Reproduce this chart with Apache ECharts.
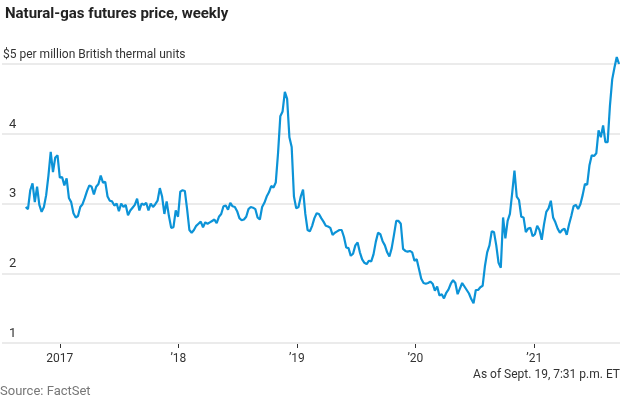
<!DOCTYPE html>
<html>
<head>
<meta charset="utf-8">
<script src="https://cdn.jsdelivr.net/npm/echarts@6/dist/echarts.min.js"></script>
<style>
  html, body { margin: 0; padding: 0; background: #fff; }
  #chart { width: 620px; height: 400px; }
</style>
</head>
<body>
<div id="chart"></div>
<script>
// Weekly natural-gas futures prices ($ per million BTU), first week = 2016-09-18
const startDate = '2016-09-18';
const prices2016 = [2.95, 2.92, 3.19, 3.29, 3.02, 3.24, 2.98, 2.88, 2.95, 3.12, 3.40, 3.74, 3.45, 3.66, 3.69];
const prices2017 = [3.37, 3.38, 3.26, 3.36, 3.08, 3.02, 2.86, 2.80, 2.82, 2.95,
                    2.99, 3.08, 3.18, 3.26, 3.24, 3.13, 3.24, 3.28, 3.40, 3.30,
                    3.31, 3.10, 3.04, 3.03, 2.97, 3.00, 2.89, 3.00, 2.95, 2.98,
                    2.83, 2.90, 2.94, 2.98, 3.07, 2.90, 3.00, 2.98, 3.01, 2.90,
                    3.00, 2.95, 2.99, 3.04, 3.22, 3.10, 2.85, 3.03, 2.82, 2.65,
                    2.66, 2.90];
const prices2018 = [2.81, 3.17, 3.19, 3.18, 2.92, 2.62, 2.58, 2.62, 2.68, 2.71,
                    2.74, 2.66, 2.73, 2.71, 2.73, 2.75, 2.77, 2.72, 2.81, 2.85,
                    2.96, 2.97, 2.91, 3.01, 2.96, 2.95, 2.89, 2.79, 2.76, 2.77,
                    2.81, 2.92, 2.95, 2.94, 2.92, 2.80, 2.77, 2.95, 3.01, 3.10,
                    3.16, 3.25, 3.23, 3.30, 3.72, 4.25, 4.32, 4.60, 4.50, 3.95,
                    3.81, 3.10];
const prices2019 = [2.93, 2.95, 3.10, 3.20, 2.85, 2.62, 2.60, 2.68, 2.79, 2.86,
                    2.85, 2.79, 2.74, 2.68, 2.67, 2.65, 2.55, 2.58, 2.60, 2.62,
                    2.62, 2.52, 2.37, 2.36, 2.25, 2.28, 2.40, 2.44, 2.30, 2.20,
                    2.15, 2.13, 2.18, 2.17, 2.27, 2.45, 2.58, 2.56, 2.46, 2.40,
                    2.30, 2.24, 2.36, 2.55, 2.75, 2.75, 2.71, 2.35, 2.32, 2.31,
                    2.32, 2.30];
const prices2020 = [2.18, 2.20, 2.06, 1.92, 1.86, 1.85, 1.86, 1.88, 1.85, 1.75,
                    1.81, 1.68, 1.70, 1.64, 1.72, 1.77, 1.85, 1.90, 1.86, 1.70,
                    1.78, 1.86, 1.81, 1.76, 1.71, 1.63, 1.57, 1.76, 1.76, 1.80,
                    1.82, 2.10, 2.30, 2.40, 2.60, 2.59, 2.40, 2.15, 2.08, 2.80,
                    2.50, 2.75, 2.85, 3.15, 3.47, 3.10, 3.05, 2.81, 2.80, 2.59,
                    2.64, 2.65, 2.53];
const prices2021 = [2.56, 2.68, 2.62, 2.48, 2.70, 2.88, 2.93, 3.04, 2.80, 2.73,
                    2.64, 2.58, 2.62, 2.64, 2.55, 2.70, 2.82, 2.96, 2.98, 2.92,
                    2.99, 3.12, 3.28, 3.27, 3.55, 3.69, 3.68, 3.72, 4.05, 3.95,
                    4.12, 3.88, 3.88, 4.40, 4.78, 4.95, 5.10, 5.00];
const yTicks = [1, 2, 3, 4, 5];
const yTopLabel = '$5 per million British thermal units';
const titleText = 'Natural-gas futures price, weekly';
const noteText = 'As of Sept. 19, 7:31 p.m. ET';
const sourceText = 'Source: FactSet';

const allPrices = [].concat(prices2016, prices2017, prices2018, prices2019, prices2020, prices2021);
const WEEK = 7 * 24 * 3600 * 1000;
const t0 = new Date(startDate + 'T00:00:00').getTime();
const seriesData = allPrices.map((v, i) => [t0 + i * WEEK, v]);

const FONT = 'Roboto, "Liberation Sans", sans-serif';

const chart = echarts.init(document.getElementById('chart'), null, { renderer: 'canvas' });
chart.setOption({
  animation: false,
  backgroundColor: '#ffffff',
  title: {
    text: titleText,
    left: 0,
    top: 2,
    textStyle: { fontFamily: FONT, fontSize: 15, fontWeight: 'bold', color: '#222' }
  },
  grid: { left: 0, right: 0, top: 64, bottom: 57 },
  xAxis: {
    type: 'time',
    min: new Date('2016-07-07T00:00:00').getTime(),
    max: new Date('2021-09-22T00:00:00').getTime(),
    minInterval: 360 * 24 * 3600 * 1000,
    axisLine: { show: false },
    axisTick: { show: true, length: 5, lineStyle: { color: '#333', width: 1 } },
    splitLine: { show: false },
    axisLabel: {
      margin: 10,
      fontFamily: FONT,
      fontSize: 12,
      color: '#333',
      formatter: function (val) {
        const y = new Date(val).getFullYear();
        return y === 2017 ? '2017' : '\u2019' + String(y).slice(2);
      }
    }
  },
  yAxis: {
    type: 'value',
    min: yTicks[0],
    max: yTicks[yTicks.length - 1],
    interval: 1,
    axisLine: { show: false },
    axisTick: { show: false },
    splitLine: { show: true, lineStyle: { color: '#ebebeb', width: 2 } },
    axisLabel: {
      inside: true,
      margin: 1,
      verticalAlign: 'bottom',
      fontFamily: FONT,
      fontSize: 12,
      color: '#333',
      formatter: function (v) {
        return v === 5 ? '{n|' + yTopLabel + '}' : '{p|}{d|' + v + '}';
      },
      rich: {
        p: { width: 6 },
        n: { fontFamily: FONT, fontSize: 12, color: '#333', padding: [0, 0, 3, 0] },
        d: { fontFamily: FONT, fontSize: 13, color: '#333', padding: [0, 0, 3, 0] }
      }
    },
    z: 1
  },
  series: [{
    type: 'line',
    data: seriesData,
    showSymbol: false,
    clip: false,
    lineStyle: { color: '#0c93d7', width: 2.2 },
    itemStyle: { color: '#0c93d7' },
    z: 5
  }],
  graphic: [
    { type: 'text', right: 0, top: 369, style: { text: noteText, font: '12px ' + FONT, fill: '#333' } },
    { type: 'text', left: 0, top: 385, style: { text: sourceText, font: '13px ' + FONT, fill: '#777' } }
  ]
});
</script>
</body>
</html>
